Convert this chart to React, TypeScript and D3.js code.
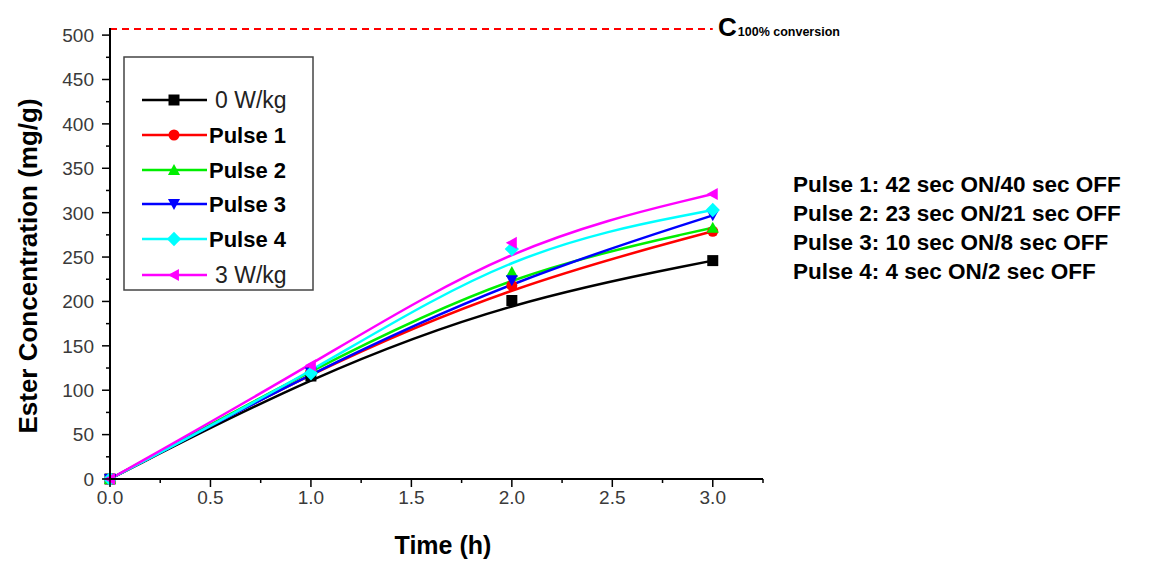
import React from "react";
import * as d3 from "d3";

// Sampling times (h)
const times = [0, 1, 2, 3];

// Ester concentration (mg/g) per treatment
const seriesNames = ["0 W/kg", "Pulse 1", "Pulse 2", "Pulse 3", "Pulse 4", "3 W/kg"];
const valsControl = [0, 116, 201, 246];
const valsPulse1 = [0, 121, 218, 279];
const valsPulse2 = [0, 123, 233, 283];
const valsPulse3 = [0, 120, 224, 297];
const valsPulse4 = [0, 119, 259, 303];
const valsHighPower = [0, 128, 266, 321];

const seriesColors = ["#000000", "#ff0000", "#00ee00", "#0000ff", "#00ffff", "#ff00ff"];
const seriesSymbols = ["square", "circle", "triUp", "triDown", "diamond", "triLeft"];
const seriesBold = [false, true, true, true, true, false];

const xTicks = [0, 0.5, 1, 1.5, 2, 2.5, 3];
const yTicks = [0, 50, 100, 150, 200, 250, 300, 350, 400, 450, 500];
const fullConversion = 507;

const pulseNotes = [
  "Pulse 1: 42 sec ON/40 sec OFF",
  "Pulse 2: 23 sec ON/21 sec OFF",
  "Pulse 3: 10 sec ON/8 sec OFF",
  "Pulse 4: 4 sec ON/2 sec OFF",
];

const allValues = [valsControl, valsPulse1, valsPulse2, valsPulse3, valsPulse4, valsHighPower];

function symbolPath(kind: string, cx: number, cy: number, r: number) {
  switch (kind) {
    case "square":
      return `M${cx - r},${cy - r}h${2 * r}v${2 * r}h${-2 * r}Z`;
    case "circle":
      return `M${cx - r},${cy}a${r},${r} 0 1,0 ${2 * r},0a${r},${r} 0 1,0 ${-2 * r},0Z`;
    case "triUp":
      return `M${cx},${cy - r * 1.1}L${cx + r * 1.1},${cy + r * 0.9}L${cx - r * 1.1},${cy + r * 0.9}Z`;
    case "triDown":
      return `M${cx},${cy + r * 1.1}L${cx + r * 1.1},${cy - r * 0.9}L${cx - r * 1.1},${cy - r * 0.9}Z`;
    case "diamond":
      return `M${cx},${cy - r * 1.3}L${cx + r * 1.3},${cy}L${cx},${cy + r * 1.3}L${cx - r * 1.3},${cy}Z`;
    case "triLeft":
      return `M${cx - r * 1.1},${cy}L${cx + r * 0.9},${cy - r * 1.1}L${cx + r * 0.9},${cy + r * 1.1}Z`;
  }
  return "";
}

export default function App() {
  const W = 1151, H = 561;
  const x = d3.scaleLinear().domain([0, 3.25]).range([110, 763]);
  const y = d3.scaleLinear().domain([0, 508]).range([479, 28]);
  const xMinor = d3.range(0.25, 3.26, 0.5);
  const yMinor = d3.range(25, 501, 50);

  const font = "'Liberation Sans', Arial, sans-serif";

  return (
    <svg width={W} height={H} style={{ position: "absolute", left: 0, top: 0, background: "#fff" }}>
      {/* 100 % conversion reference */}
      <line x1={x(0)} x2={x(3)} y1={y(fullConversion)} y2={y(fullConversion)}
        stroke="#ff0000" strokeWidth={2} strokeDasharray="7,5" />
      <text x={718} y={36} fontFamily={font} fontWeight="bold" fill="#000">
        <tspan fontSize={26}>C</tspan>
        <tspan fontSize={12.5} dx={1}>100% conversion</tspan>
      </text>

      {/* smoothed curves */}
      {allValues.map((vals, i) => {
        const l = d3.line<number>()
          .x((_, j) => x(times[j]))
          .y((v) => y(v))
          .curve(d3.curveBasis);
        return (
          <path key={"c" + i} d={l(vals) || ""} fill="none" stroke={seriesColors[i]} strokeWidth={2.5} />
        );
      })}

      {/* data markers */}
      {allValues.map((vals, i) =>
        vals.map((v, j) => (
          <path key={"m" + i + "-" + j} d={symbolPath(seriesSymbols[i], x(times[j]), y(v), 5.5)}
            fill={seriesColors[i]} />
        ))
      )}

      {/* axes */}
      <line x1={x(0)} x2={x(0)} y1={y(0)} y2={28} stroke="#000" strokeWidth={2} />
      <line x1={x(0)} x2={763} y1={y(0)} y2={y(0)} stroke="#000" strokeWidth={2} />
      {yTicks.map((t) => (
        <g key={"yt" + t}>
          <line x1={x(0) - 8} x2={x(0)} y1={y(t)} y2={y(t)} stroke="#000" strokeWidth={1.5} />
          <text x={x(0) - 16} y={y(t)} dy="0.36em" textAnchor="end" fontFamily={font}
            fontSize={19} fill="#3a3a3a">{t}</text>
        </g>
      ))}
      {yMinor.map((t) => (
        <line key={"ym" + t} x1={x(0) - 4} x2={x(0)} y1={y(t)} y2={y(t)} stroke="#000" strokeWidth={1.5} />
      ))}
      {xTicks.map((t) => (
        <g key={"xt" + t}>
          <line x1={x(t)} x2={x(t)} y1={y(0)} y2={y(0) + 8} stroke="#000" strokeWidth={1.5} />
          <text x={x(t)} y={y(0) + 25} textAnchor="middle" fontFamily={font}
            fontSize={19} fill="#3a3a3a">{t.toFixed(1)}</text>
        </g>
      ))}
      {xMinor.map((t) => (
        <line key={"xm" + t} x1={x(t)} x2={x(t)} y1={y(0)} y2={y(0) + 4} stroke="#000" strokeWidth={1.5} />
      ))}

      {/* axis titles */}
      <text transform="translate(37,266) rotate(-90)" textAnchor="middle"
        fontFamily={font} fontWeight="bold" fontSize={26} fill="#000">
        Ester Concentration (mg/g)
      </text>
      <text x={443} y={554} textAnchor="middle" fontFamily={font} fontWeight="bold" fontSize={25} fill="#000">
        Time (h)
      </text>

      {/* legend */}
      <rect x={124} y={57} width={189} height={233} fill="#fff" stroke="#444" strokeWidth={1.5} />
      {seriesNames.map((name, i) => {
        const cy = [100, 135, 170, 204, 239, 275][i];
        return (
          <g key={"lg" + i}>
            <line x1={142} x2={207} y1={cy} y2={cy} stroke={seriesColors[i]} strokeWidth={2.5} />
            <path d={symbolPath(seriesSymbols[i], 174, cy, 5.5)} fill={seriesColors[i]} />
            <text x={seriesBold[i] ? 209 : 215} y={cy} dy="0.36em" fontFamily={font}
              fontWeight={seriesBold[i] ? "bold" : "normal"} fontSize={seriesBold[i] ? 22 : 23}
              fill={seriesBold[i] ? "#000" : "#222"}>
              {name}
            </text>
          </g>
        );
      })}

      {/* pulse settings */}
      {pulseNotes.map((s, i) => (
        <text key={"pn" + i} x={793} y={192 + i * 29} fontFamily={font} fontWeight="bold"
          fontSize={22.5} fill="#000">{s}</text>
      ))}
    </svg>
  );
}
